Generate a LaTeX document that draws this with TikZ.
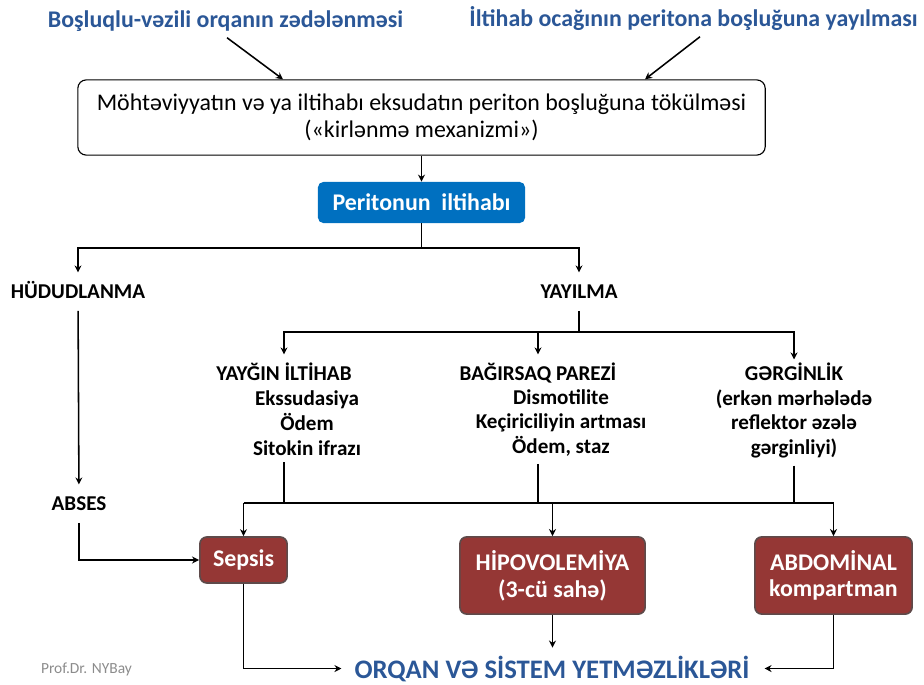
\documentclass[tikz,border=0pt]{standalone}
\usepackage{fontspec}
\setmainfont{Carlito}
\usepackage{xcolor}
\usepackage{tikz}
\usetikzlibrary{arrows.meta,positioning,calc}
\definecolor{headblue}{HTML}{2B5797}
\definecolor{boxblue}{HTML}{0070C0}
\definecolor{boxred}{HTML}{953735}
\definecolor{boxrim}{HTML}{5E4A4A}

\begin{document}
\begin{tikzpicture}[x=0.025cm, y=-0.025cm,
  head/.style={inner sep=1pt, anchor=base, font=\bfseries\fontsize{17}{20}\selectfont, text=headblue},
  tag/.style={inner sep=6pt, anchor=base, text height=12pt, text depth=3pt, font=\bfseries\fontsize{15}{17.7}\selectfont},
  label/.style={inner sep=2pt, align=center, font=\bfseries\fontsize{15}{17.7}\selectfont},
  mainbox/.style={draw, thick, rounded corners=6pt, minimum width=17.18cm, minimum height=1.88cm, align=center, font=\fontsize{17}{19}\selectfont},
  bluebox/.style={fill=boxblue, rounded corners=4pt, minimum width=5.18cm, minimum height=1.03cm, text=white, font=\bfseries\fontsize{17}{19}\selectfont},
  redbox/.style={draw=boxrim, fill=boxred, line width=1.2pt, rounded corners=5pt, align=center, text=white, font=\bfseries\fontsize{17}{19}\selectfont},
  arr/.style={-{Stealth[length=5pt, width=5pt]}, line width=1.1pt},
  line/.style={line width=1.1pt}
]
  \useasboundingbox (0,0) rectangle (924,684);

  % sources
  \node[head] (h1) at (225.5,27) {Boşluqlu-vəzili orqanın zədələnməsi};
  \node[head] (h2) at (693.5,26) {İltihab ocağının peritona boşluğuna yayılması};
  \node[mainbox] (main) at (421.5,117.5) {Möhtəviyyatın və ya iltihabı eksudatın periton boşluğuna tökülməsi\\(«kirlənmə mexanizmi»)};
  \node[bluebox] (peri) at (421.5,202.5) {Peritonun\ \ iltihabı};

  \draw[arr] ($(h1.south)+(1.5,5)$) -- ($(main.north)+(-138.5,0)$);
  \draw[arr] ($(h2.south)+(6.5,5)$) -- ($(main.north)+(223.5,0)$);
  \draw[arr] (main) -- (peri);

  % two ways
  \node[tag] (hud) at (78,298) {HÜDUDLANMA};
  \node[tag] (yay) at (579,298) {YAYILMA};
  \node[tag] (abses) at (79,510) {ABSES};
  \coordinate (j1) at (421.5,248);
  \draw[line] (peri) -- (j1);
  \draw[arr] (j1) -| (hud);
  \draw[arr] (j1) -| (yay);
  \draw[arr] (hud) -- (abses);

  % spreading
  \node[tag] (t1) at (284,380) {YAYĞIN İLTİHAB};
  \node[label] (d1) at (307,423) {Ekssudasiya\\Ödem\\Sitokin ifrazı};
  \node[tag] (t2) at (538,380) {BAĞIRSAQ PAREZİ};
  \node[label] (d2) at (561,423) {Dismotilite\\Keçiriciliyin artması\\Ödem, staz};
  \node[label] (t3) at (794,410.5) {GƏRGİNLİK\\(erkən mərhələdə\\reflektor əzələ\\gərginliyi)};
  \coordinate (j2) at (579,332);
  \draw[line] (yay) -- (j2);
  \draw[arr] (j2) -| (t1);
  \draw[arr] (j2) -| (t2);
  \draw[arr] (j2) -| (t3);

  % outcomes
  \node[redbox, minimum width=2.18cm, minimum height=1.15cm] (sepsis) at (243.5,560) {Sepsis};
  \node[redbox, minimum width=4.63cm, minimum height=1.93cm] (hipo) at (552.5,575.5) {HİPOVOLEMİYA\\(3-cü sahə)};
  \node[redbox, minimum width=3.93cm, minimum height=1.93cm] (abd) at (833.5,575.5) {ABDOMİNAL\\kompartman};
  \coordinate (j3) at (243.5,503);
  \coordinate (j4) at (833.5,503);
  \draw[line] (j3) -- (j4);
  \draw[line] ($(t1 |- d1.south)+(0,4)$) -- (t1 |- j3);
  \draw[line] ($(t2 |- d2.south)+(0,4)$) -- (t2 |- j3);
  \draw[line] ($(t3.south)+(0,4)$) -- (t3 |- j3);
  \draw[arr] (j3) -- (sepsis);
  \draw[arr] (hipo |- j3) -- (hipo);
  \draw[arr] (j4) -- (abd);
  \draw[arr] (abses) |- (sepsis);

  % result
  \node[head, font=\bfseries\fontsize{19}{22}\selectfont, inner sep=2pt] (organ) at (552,678) {ORQAN VƏ SİSTEM YETMƏZLİKLƏRİ};
  \node[anchor=base, text=black!45, font=\fontsize{11}{13}\selectfont] (prof) at (86.5,673) {Prof.Dr. NYBay};
  \draw[arr] (sepsis) |- ($(organ.west)+(-10,0)$);
  \draw[arr] (hipo) -- ($(hipo |- organ.north)+(0,-5)$);
  \draw[arr] (abd) |- ($(organ.east)+(12,0)$);
\end{tikzpicture}
\end{document}
